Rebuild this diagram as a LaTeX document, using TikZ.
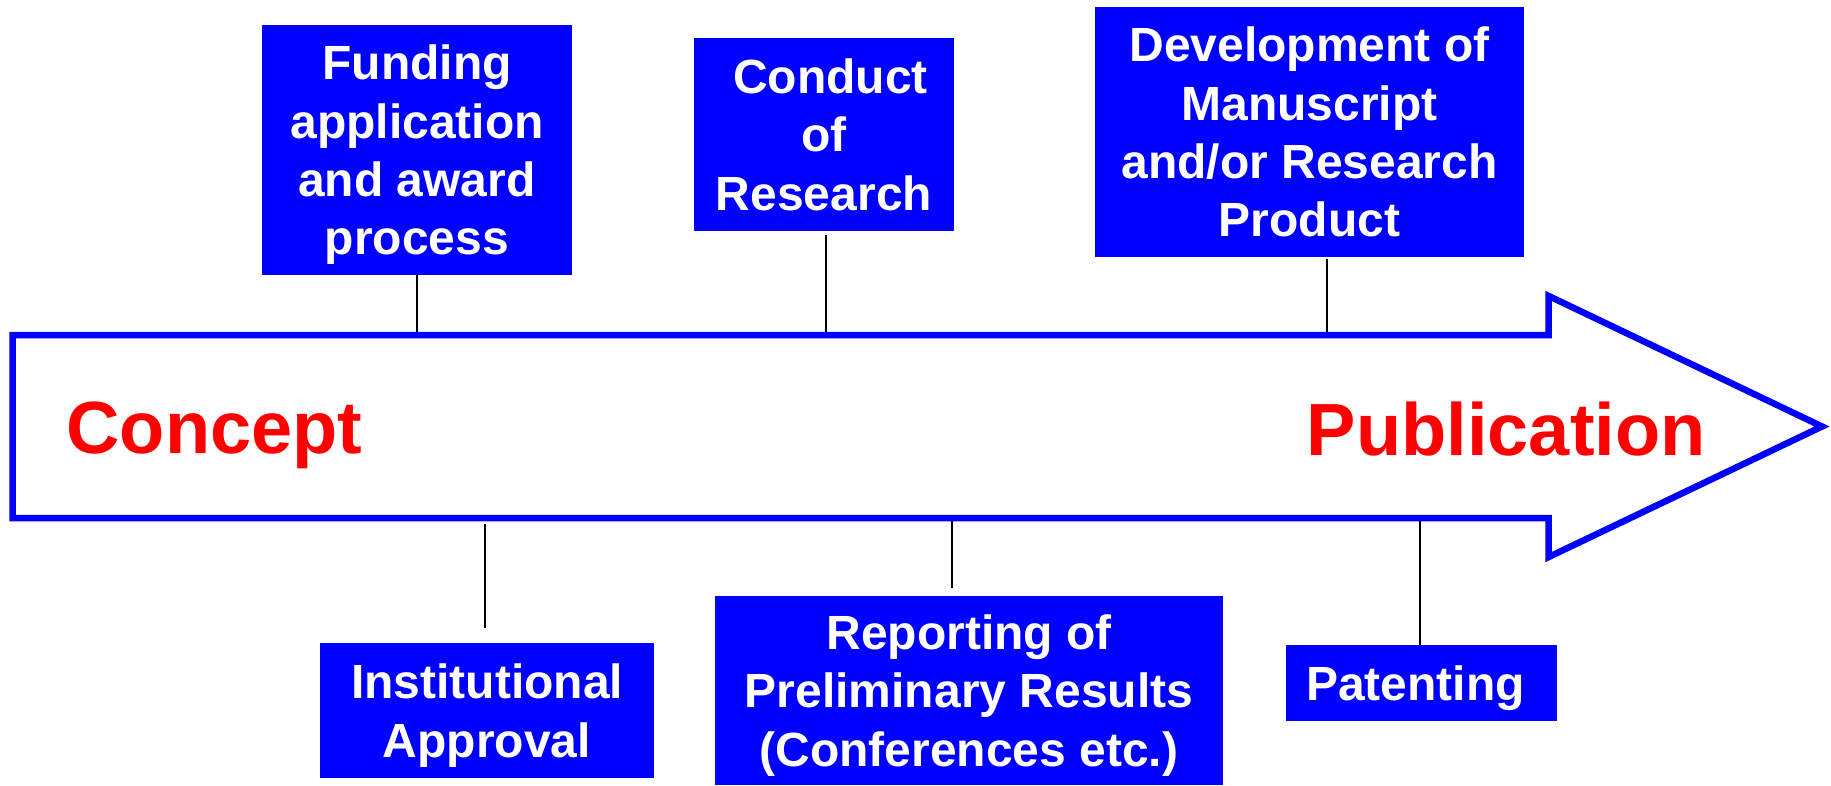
\documentclass[tikz,border=0pt]{standalone}
\usepackage{fontspec}
\setsansfont{Liberation Sans}
\usetikzlibrary{arrows,positioning}

\begin{document}
\begin{tikzpicture}[x=0.5pt,y=-0.5pt]
\tikzstyle{stage}=[rectangle,fill=blue,text=white,inner sep=0pt,align=center,text depth=0pt,font=\sffamily\bfseries\fontsize{24}{29.2}\selectfont]
\tikzstyle{milestone}=[text=red,inner sep=0pt,anchor=base west,font=\sffamily\bfseries\fontsize{37}{44}\selectfont]
\tikzstyle{tick}=[black,line width=0.7pt]
\useasboundingbox (0,0) rectangle (1831,786);
% boxes above the arrow
\node[stage,minimum width=155pt,minimum height=125pt] (fund) at (417,150) {Funding\\application\\and award\\process};
\node[stage,minimum width=130pt,minimum height=96.5pt] (conduct) at (824,134.5) {\hspace*{6.4pt}Conduct\\of\\Research};
\node[stage,minimum width=214.5pt,minimum height=125pt] (devel) at (1309.5,132) {Development of\\Manuscript\\and/or Research\\Product};
% boxes below the arrow
\node[stage,minimum width=167pt,minimum height=67.5pt] (instit) at (487,710.5) {Institutional\\Approval};
\node[stage,minimum width=254pt,minimum height=94.5pt] (report) at (969,690.5) {Reporting of\\Preliminary Results\\(Conferences etc.)};
\node[stage,minimum width=135.5pt,minimum height=38pt] (patent) at (1421.5,683) {Patenting\hspace*{6pt}};
% where the ticks meet the arrow
\coordinate (t1) at (417,333);
\coordinate (t2) at (826,333);
\coordinate (t3) at (1327,333);
\coordinate (b1) at (485,524);
\coordinate (b2) at (952,515);
\coordinate (b3) at (1420,520);
\draw[tick] (fund.south -| t1) -- (t1);
\draw[tick,shorten <=2pt] (conduct.south -| t2) -- (t2);
\draw[tick,shorten <=1pt] (devel.south -| t3) -- (t3);
\draw[tick,shorten <=7.5pt] (instit.north -| b1) -- (b1);
\draw[tick,shorten <=4pt] (report.north -| b2) -- (b2);
\draw[tick] (patent.north -| b3) -- (b3);
% the big arrow
\draw[blue,line width=3.25pt,miter limit=10] (12.5,335) -- (1548.7,335) -- (1548.7,296) -- (1822,426.5) -- (1548.7,557) -- (1548.7,518) -- (12.5,518) -- cycle;
\node[milestone] (concept) at (66,453) {Concept};
\node[milestone] (publication) at (1306.5,455) {Publication};
\end{tikzpicture}
\end{document}
